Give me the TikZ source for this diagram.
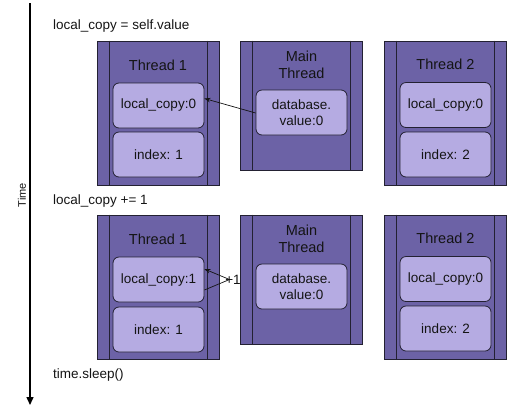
\documentclass[tikz,border=0pt]{standalone}
\usepackage{fontspec}
\setmainfont{Liberation Sans}
\usetikzlibrary{arrows.meta}
\definecolor{outerfill}{RGB}{108,98,166}
\definecolor{innerfill}{RGB}{181,171,226}
\definecolor{edgecol}{RGB}{35,33,50}
\definecolor{txt}{RGB}{20,20,20}
\tikzset{
  outerbox/.style={draw=edgecol, fill=outerfill, line width=0.9pt, minimum width=122pt, inner sep=0pt},
  innerbox/.style={draw=edgecol, fill=innerfill, line width=0.8pt, rounded corners=6pt, minimum width=91pt, minimum height=45pt, inner sep=0pt, align=center, font=\fontsize{13.5}{15.5}\selectfont, text=txt},
  titletext/.style={font=\fontsize{14.5}{17.5}\selectfont, text=txt, align=center, inner sep=0pt},
  steptext/.style={font=\fontsize{13.5}{15.5}\selectfont, text=txt, anchor=west, inner sep=0pt},
  barline/.style={draw=edgecol, line width=0.9pt},
  copyarrow/.style={draw=txt, line width=0.7pt, -{Stealth[length=6pt,width=4.5pt]}},
}
\newcommand{\bars}[1]{%
  \draw[barline] ([xshift=12.5pt]#1.north west) -- ([xshift=12.5pt]#1.south west);
  \draw[barline] ([xshift=-12.5pt]#1.north east) -- ([xshift=-12.5pt]#1.south east);
}
\begin{document}
\begin{tikzpicture}[x=1pt,y=-1pt]
\useasboundingbox (0,0) rectangle (526,416);
% time axis
\coordinate (ttop) at (30,3);
\coordinate (tbot) at (30,405);
\draw[line width=1.4pt, -{Triangle[length=8pt,width=7pt]}] (ttop) -- (tbot);
\node[rotate=90, font=\fontsize{11}{13}\selectfont, text=txt, inner sep=0pt] (timelbl) at (22,195) {Time};

% step labels
\node[steptext] (s1) at (53,26) {local\_copy = self.value};
\node[steptext] (s2) at (53,201) {local\_copy += 1};
\node[steptext] (s3) at (53,375) {time.sleep()};

% ---------- top row ----------
\node[outerbox, minimum height=144pt] (t1a) at (158,113) {};
\bars{t1a}
\node[titletext] (t1atitle) at (158,65) {Thread 1};
\node[innerbox] (lc1a) at (158.5,105.5) {local\_copy:0};
\node[innerbox] (ix1a) at (158.5,154.5) {index: 1};

\node[outerbox, minimum height=129pt] (mta) at (301.5,105.5) {};
\bars{mta}
\node[titletext] (mtatitle) at (301.5,65) {Main\\Thread};
\node[innerbox] (dba) at (301.5,112.5) {database.\\value:0};

\node[outerbox, minimum height=144pt] (t2a) at (445.5,113) {};
\bars{t2a}
\node[titletext] (t2atitle) at (445.5,64) {Thread 2};
\node[innerbox] (lc2a) at (445.5,105) {local\_copy:0};
\node[innerbox] (ix2a) at (445.5,154.5) {index: 2};

\draw[copyarrow] ([yshift=-0.5pt]dba.west) -- ([yshift=7pt]lc1a.east);

% ---------- bottom row ----------
\node[outerbox, minimum height=144pt] (t1b) at (158,287) {};
\bars{t1b}
\node[titletext] (t1btitle) at (158,239) {Thread 1};
\node[innerbox] (lc1b) at (158.5,279.5) {local\_copy:1};
\node[innerbox] (ix1b) at (158.5,329.5) {index: 1};

\node[outerbox, minimum height=129pt] (mtb) at (301.5,279.5) {};
\bars{mtb}
\node[titletext] (mtbtitle) at (301.5,239) {Main\\Thread};
\node[innerbox] (dbb) at (301.5,286.5) {database.\\value:0};

\node[outerbox, minimum height=144pt] (t2b) at (445.5,287) {};
\bars{t2b}
\node[titletext] (t2btitle) at (445.5,238) {Thread 2};
\node[innerbox] (lc2b) at (445.5,279) {local\_copy:0};
\node[innerbox] (ix2b) at (445.5,328.5) {index: 2};

\node[font=\fontsize{13.5}{15.5}\selectfont, text=txt, inner sep=0pt] (plus) at (233,279.5) {+1};
\coordinate (vtx) at (229.5,279.5);
\draw[draw=txt, line width=0.7pt] ([yshift=-10.5pt]lc1b.east) -- (vtx);
\draw[copyarrow] (vtx) -- ([yshift=10.5pt]lc1b.east);
\end{tikzpicture}
\end{document}
